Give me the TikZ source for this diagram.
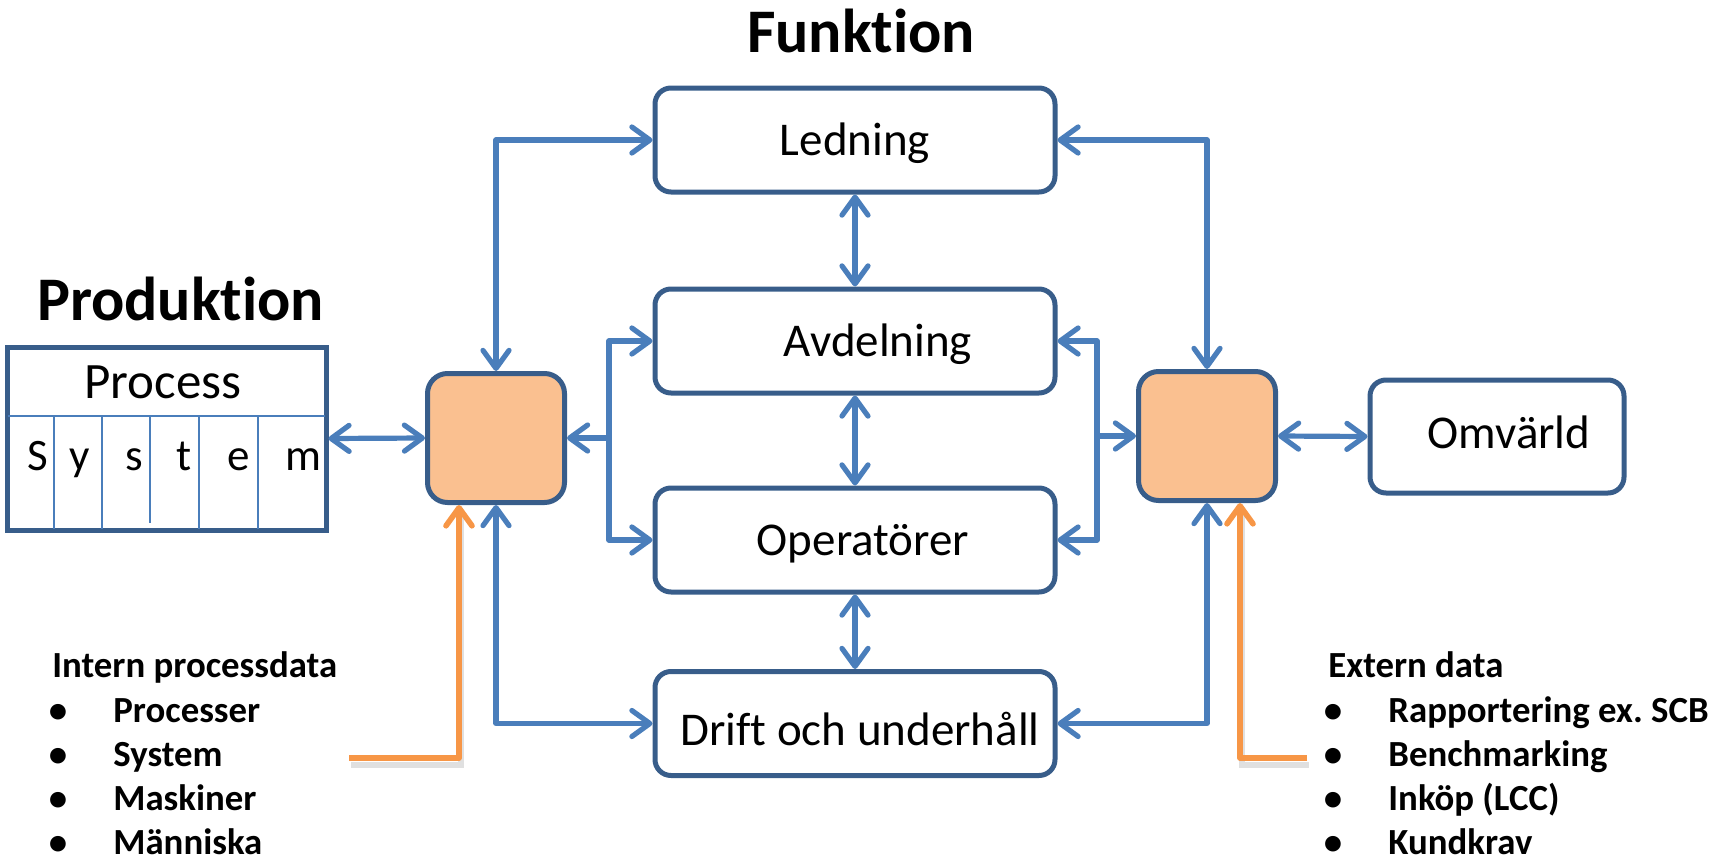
\documentclass[tikz,border=0pt]{standalone}
\usepackage{fontspec}
\setmainfont{Carlito}[Ligatures=NoCommon]
\usetikzlibrary{arrows.meta}
\definecolor{boxline}{HTML}{385D8A}
\definecolor{conn}{HTML}{4A7EBB}
\definecolor{orfill}{HTML}{FAC090}
\definecolor{orline}{HTML}{F79646}
\frenchspacing
\begin{document}
\begin{tikzpicture}[x=0.5pt,y=-0.5pt,
  >={Straight Barb[length=9pt,width=13pt,round]},
  fbox/.style={draw=boxline, line width=2.5pt, rounded corners=8pt, minimum width=200pt, minimum height=52pt, inner sep=0pt, font=\fontsize{23.5}{28}\selectfont, text height=17pt, text depth=2pt},
  hub/.style={draw=boxline, line width=2.5pt, fill=orfill, rounded corners=10pt, minimum width=68.5pt, minimum height=64.5pt, inner sep=0pt},
  link/.style={draw=conn, line width=2.6pt, line cap=round, line join=round},
  feed/.style={draw=orline, line width=2.8pt, line join=round},
  feedshadow/.style={draw=black, opacity=0.12, line width=3pt},
  title/.style={font=\fontsize{31}{36}\selectfont\bfseries, anchor=base, inner sep=0pt},
  listtxt/.style={font=\fontsize{18.4}{22}\selectfont\bfseries, anchor=base west, inner sep=0pt},
  bul/.style={font=\fontsize{18.4}{22}\selectfont\bfseries, anchor=base, inner sep=0pt},
  letter/.style={font=\fontsize{22.5}{26}\selectfont, anchor=base, inner sep=0pt}]
\useasboundingbox (0,0) rectangle (1730,862);

% titles
\node[title] (funk) at (861,52) {Funktion};
\node[title] (prod) at (180.5,320) {Produktion};

% function boxes
\node[fbox] (led) at (855,140) {Ledning};
\node[fbox] (avd) at (855,341) {\hspace*{23pt}Avdelning};
\node[fbox] (ope) at (855,540) {\hspace*{8pt}Operatörer};
\node[fbox, text height=23pt, text depth=1.5pt] (dri) at (855,723.5) {\hspace*{5pt}Drift och underhåll};
\node[fbox, minimum width=127pt, minimum height=56.5pt, text height=13pt, text depth=1.5pt] (omv) at (1497,436.5) {\hspace*{12pt}Omvärld};

% hubs
\node[hub] (lo) at (496,438) {};
\node[hub] (ro) at (1207,436) {};

% process box
\node[draw=boxline, line width=2.5pt, minimum width=159.5pt, minimum height=91.5pt, inner sep=0pt] (proc) at (166.5,438.5) {};
\draw[conn, line width=0.9pt] (8,416) -- (325,416);
\foreach \xx in {54,102,199,258} \draw[conn, line width=0.9pt] (\xx,416) -- (\xx,529);
\draw[conn, line width=0.9pt] (150,416) -- (150,523);
\node[font=\fontsize{25.5}{30}\selectfont, anchor=base, inner sep=0pt] (proctxt) at (163,398) {Process};
\node[letter] (l1) at (37.5,470) {S};
\node[letter] (l2) at (80,470) {y};
\node[letter] (l3) at (134,470) {s};
\node[letter] (l4) at (184,470) {t};
\node[letter] (l5) at (239,470) {e};
\node[letter] (l6) at (303,470) {m};

% connectors
\coordinate (jl) at (609,438);
\coordinate (jr) at (1097,436);
\draw[link,<->] (led.west) -| (lo.north);
\draw[link,<->] (led.east) -| (ro.north);
\draw[link,<->] (led.south) -- (avd.north);
\draw[link,<->] (avd.south) -- (ope.north);
\draw[link,<->] (ope.south) -- (dri.north);
\draw[link,<-] (lo.east) -- (jl);
\draw[link,->] (jl) |- (avd.west);
\draw[link,->] (jl) |- (ope.west);
\draw[link,<-] (ro.west) -- (jr);
\draw[link,->] (jr) |- (avd.east);
\draw[link,->] (jr) |- (ope.east);
\draw[link,<->] (proc.east) -- (lo.west);
\draw[link,<->] (ro.east) -- (omv.west);
\draw[link,<->] (lo.south) |- (dri.west);
\draw[link,<->] (ro.south) |- (dri.east);

% orange feeds
\coordinate (lfs) at (349,758);
\coordinate (lfb) at (459,758);
\coordinate (rfs) at (1307,758);
\coordinate (rfb) at (1240,758);
\draw[feedshadow] ([shift={(2,7)}]lfs) -- ([shift={(2,7)}]lfb) -- ([shift={(2,7)}]lfb |- lo.south);
\draw[feedshadow] ([shift={(2,7)}]rfs) -- ([shift={(2,7)}]rfb) -- ([shift={(2,7)}]rfb |- ro.south);
\draw[feed,->] (lfs) -- (lfb) -- (lfb |- lo.south);
\draw[feed,->] (rfs) -- (rfb) -- (rfb |- ro.south);

% left list
\node[listtxt] (ih) at (52,677) {Intern processdata};
\node[bul] (ib1) at (58,722) {•};
\node[bul] (ib2) at (58,766) {•};
\node[bul] (ib3) at (58,810) {•};
\node[bul] (ib4) at (58,854) {•};
\node[listtxt] (it1) at (113,722) {Processer};
\node[listtxt] (it2) at (113,766) {System};
\node[listtxt] (it3) at (113,810) {Maskiner};
\node[listtxt] (it4) at (113,854) {Människa};

% right list
\node[listtxt] (eh) at (1328,677) {Extern data};
\node[bul] (eb1) at (1333,722) {•};
\node[bul] (eb2) at (1333,766) {•};
\node[bul] (eb3) at (1333,810) {•};
\node[bul] (eb4) at (1333,854) {•};
\node[listtxt] (et1) at (1388,722) {Rapportering ex. SCB};
\node[listtxt] (et2) at (1388,766) {Benchmarking};
\node[listtxt] (et3) at (1388,810) {Inköp (LCC)};
\node[listtxt] (et4) at (1388,854) {Kundkrav};
\end{tikzpicture}
\end{document}
